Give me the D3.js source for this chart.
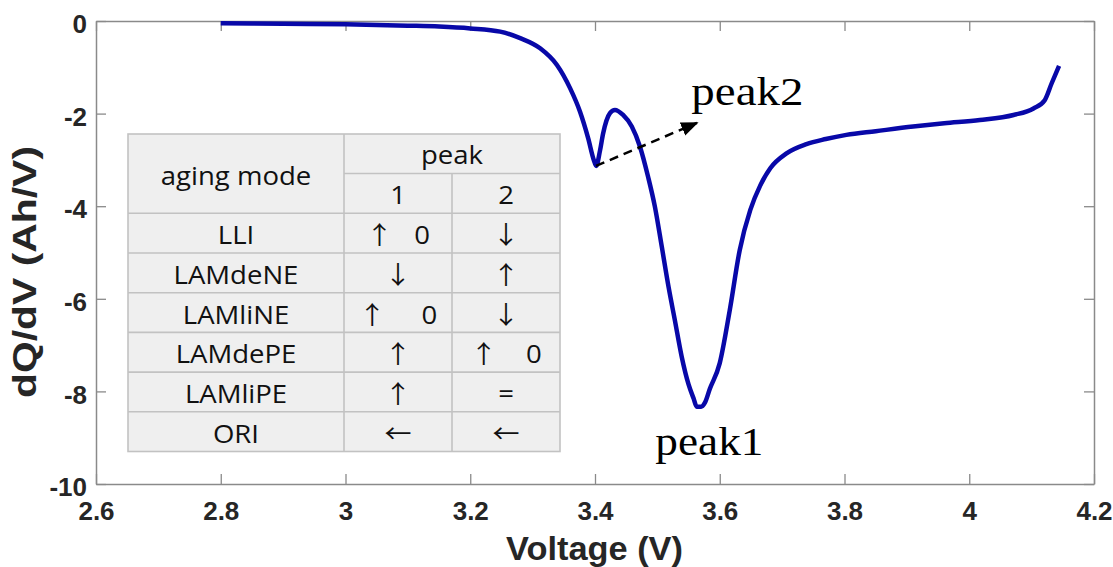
<!DOCTYPE html>
<html>
<head>
<meta charset="utf-8">
<script src="https://cdn.jsdelivr.net/npm/d3@7"></script>
<style>
  html, body { margin: 0; padding: 0; background: #fff; }
  svg { display: block; }
  .cell { white-space: pre; }
</style>
</head>
<body>
<svg id="chart" width="1113" height="567"></svg>
<script>
// ---- data ----
const voltage = [2.80, 2.90, 3.00, 3.10, 3.15, 3.20, 3.248, 3.28, 3.312, 3.339, 3.36, 3.376, 3.389, 3.398, 3.402,
  3.408, 3.413, 3.424, 3.432, 3.445, 3.459, 3.472, 3.485, 3.496, 3.507, 3.518, 3.528, 3.539, 3.550, 3.558,
  3.563, 3.570, 3.576, 3.584, 3.600, 3.616, 3.632, 3.649, 3.665, 3.681, 3.707, 3.739, 3.770, 3.803, 3.850,
  3.910, 3.960, 4.017, 4.071, 4.103, 4.121, 4.132, 4.144];
const dqdv = [-0.05, -0.06, -0.07, -0.10, -0.12, -0.16, -0.23, -0.37, -0.59, -0.95, -1.45, -1.96, -2.53, -3.00, -3.13,
  -2.80, -2.43, -1.99, -1.92, -2.03, -2.28, -2.71, -3.36, -4.01, -4.87, -5.75, -6.46, -7.25, -7.85, -8.15,
  -8.33, -8.33, -8.25, -7.95, -7.39, -6.25, -4.95, -4.08, -3.55, -3.18, -2.86, -2.66, -2.55, -2.46, -2.38,
  -2.28, -2.21, -2.14, -2.03, -1.89, -1.71, -1.35, -0.97];

const xTicks = [2.6, 2.8, 3.0, 3.2, 3.4, 3.6, 3.8, 4.0, 4.2];
const yTicks = [0, -2, -4, -6, -8, -10];
const xTitle = "Voltage (V)";
const yTitle = "dQ/dV (Ah/V)";

// annotations (data coords)
const peak2Arrow = { from: [3.4016, -3.13], to: [3.5635, -2.20] };
const peak2Label = { text: "peak2", at: [3.5545, -1.81] };
const peak1Label = { text: "peak1", at: [3.4968, -9.37] };

// table
const tableHeader = ["aging mode", "peak", "1", "2"];
const modes = ["LLI", "LAMdeNE", "LAMliNE", "LAMdePE", "LAMliPE", "ORI"];
const peak1Effect = ["\u2191   0", "\u2193", "\u2191     0", "\u2191", "\u2191", "\u2190"];
const peak2Effect = ["\u2193", "\u2191", "\u2193", "\u2191    0", "=", "\u2190"];

// ---- layout ----
const W = 1113, H = 567;
const m = { left: 96, top: 21, right: 1113 - 1094, bottom: 567 - 484 };
const svg = d3.select("#chart");

const x = d3.scaleLinear().domain([2.6, 4.2]).range([m.left, W - m.right]);
const y = d3.scaleLinear().domain([-10, 0]).range([H - m.bottom, m.top]);

const axisColor = "#8a8a8a";
const labelColor = "#262626";
const fmt = d => String(d);

// bottom axis
const gx = svg.append("g").attr("transform", `translate(0,${y(-10)})`)
  .call(d3.axisBottom(x).tickValues(xTicks).tickFormat(fmt).tickSizeInner(-10).tickSizeOuter(0).tickPadding(18));
// left axis
const gy = svg.append("g").attr("transform", `translate(${x(2.6)},0)`)
  .call(d3.axisLeft(y).tickValues(yTicks).tickFormat(fmt).tickSizeInner(-10).tickSizeOuter(0).tickPadding(9));
// top axis
const gt = svg.append("g").attr("transform", `translate(0,${y(0)})`)
  .call(d3.axisTop(x).tickValues(xTicks).tickFormat("").tickSizeInner(-10).tickSizeOuter(0));
// right axis
const gr = svg.append("g").attr("transform", `translate(${x(4.2)},0)`)
  .call(d3.axisRight(y).tickValues(yTicks).tickFormat("").tickSizeInner(-10).tickSizeOuter(0));

[gx, gy, gt, gr].forEach(g => {
  g.select(".domain").attr("stroke", axisColor).attr("stroke-width", 1.5);
  g.selectAll(".tick line").attr("stroke", axisColor).attr("stroke-width", 1.3);
  g.selectAll(".tick text")
    .attr("fill", labelColor)
    .style("font-family", "'Liberation Sans', Arial, sans-serif")
    .style("font-weight", "bold")
    .style("font-size", "26px");
});
gy.selectAll(".tick text").attr("dy", "0.45em");

// axis titles
svg.append("text")
  .attr("x", 506).attr("y", 560)
  .attr("textLength", 177).attr("lengthAdjust", "spacingAndGlyphs")
  .attr("fill", labelColor)
  .style("font-family", "'Liberation Sans', Arial, sans-serif")
  .style("font-weight", "bold").style("font-size", "34px")
  .text(xTitle);

svg.append("text")
  .attr("transform", `translate(36,398) rotate(-90)`)
  .attr("textLength", 252).attr("lengthAdjust", "spacingAndGlyphs")
  .attr("fill", labelColor)
  .style("font-family", "'Liberation Sans', Arial, sans-serif")
  .style("font-weight", "bold").style("font-size", "33px")
  .text(yTitle);

// ---- curve ----
const pts = voltage.map((v, i) => [v, dqdv[i]]);
const line = d3.line().x(d => x(d[0])).y(d => y(d[1])).curve(d3.curveMonotoneX);
svg.append("path").datum(pts)
  .attr("d", line)
  .attr("fill", "none")
  .attr("stroke", "#0808a8")
  .attr("stroke-width", 4.5)
  .attr("stroke-linejoin", "round")
  .attr("stroke-linecap", "butt");

// ---- table ----
const T = { x0: 128, x1: 344, x2: 452, x3: 560, y0: 134, ySplit: 173.5, y1: 213.3, rowH: 39.7 };
const tb = svg.append("g");
const tBottom = T.y1 + T.rowH * modes.length;
const gridColor = "#c2c2c2";
tb.append("rect").attr("x", T.x0).attr("y", T.y0).attr("width", T.x3 - T.x0).attr("height", tBottom - T.y0)
  .attr("fill", "#efefef").attr("stroke", gridColor).attr("stroke-width", 1.6);
const hl = (x1, x2, yy) => tb.append("line").attr("x1", x1).attr("x2", x2).attr("y1", yy).attr("y2", yy)
  .attr("stroke", gridColor).attr("stroke-width", 1.6);
const vl = (xx, y1, y2) => tb.append("line").attr("x1", xx).attr("x2", xx).attr("y1", y1).attr("y2", y2)
  .attr("stroke", gridColor).attr("stroke-width", 1.6);
hl(T.x1, T.x3, T.ySplit);
modes.forEach((_, i) => hl(T.x0, T.x3, T.y1 + T.rowH * i));
vl(T.x1, T.y0, tBottom);
vl(T.x2, T.ySplit, tBottom);

const c0 = (T.x0 + T.x1) / 2, c1 = (T.x1 + T.x2) / 2, c2 = (T.x2 + T.x3) / 2;
const arrowChars = new Set(["\u2191", "\u2193", "\u2190"]);
const cellText = (cx, by, s) => {
  const t = tb.append("text")
    .attr("class", "cell")
    .attr("text-anchor", "middle")
    .attr("transform", `translate(${cx},${by}) scale(1.08,1)`)
    .attr("fill", "#111")
    .style("font-family", "'Open Sans', sans-serif")
    .style("font-size", "25.5px");
  const runs = [];
  for (const ch of s) {
    const isA = arrowChars.has(ch);
    if (runs.length && runs[runs.length - 1].a === isA) runs[runs.length - 1].s += ch;
    else runs.push({ a: isA, s: ch });
  }
  runs.forEach(r => {
    const ts = t.append("tspan").text(r.s);
    if (r.a) ts.style("font-family", "'Noto Sans CJK JP', 'DejaVu Sans', sans-serif").style("font-size", "25px");
  });
  return t;
};

cellText(c0, 185, tableHeader[0]);
cellText((T.x1 + T.x3) / 2, 164, tableHeader[1]);
cellText(c1, 203.5, tableHeader[2]);
cellText(c2, 203.5, tableHeader[3]);
modes.forEach((mname, i) => {
  const by = T.y1 + T.rowH * i + 31;
  cellText(c0, by, mname);
  cellText(c1, by, peak1Effect[i]);
  cellText(c2, by, peak2Effect[i]);
});

// ---- annotations ----
const defs = svg.append("defs");
defs.append("marker").attr("id", "ah").attr("viewBox", "0 0 10 10")
  .attr("refX", 9).attr("refY", 5).attr("markerWidth", 7).attr("markerHeight", 7)
  .attr("markerUnits", "strokeWidth").attr("orient", "auto")
  .append("path").attr("d", "M0,1 L10,5 L0,9 Z").attr("fill", "#000");

svg.append("line")
  .attr("x1", x(peak2Arrow.from[0])).attr("y1", y(peak2Arrow.from[1]))
  .attr("x2", x(peak2Arrow.to[0])).attr("y2", y(peak2Arrow.to[1]))
  .attr("stroke", "#000").attr("stroke-width", 2.5)
  .attr("stroke-dasharray", "9,6")
  .attr("marker-end", "url(#ah)");

[[peak2Label, 112], [peak1Label, 108]].forEach(([lab, len]) => {
  svg.append("text")
    .attr("x", x(lab.at[0])).attr("y", y(lab.at[1]))
    .attr("textLength", len).attr("lengthAdjust", "spacingAndGlyphs")
    .attr("fill", "#000")
    .style("font-family", "'Liberation Serif', 'Times New Roman', serif")
    .style("font-size", "39px")
    .text(lab.text);
});
</script>
</body>
</html>
